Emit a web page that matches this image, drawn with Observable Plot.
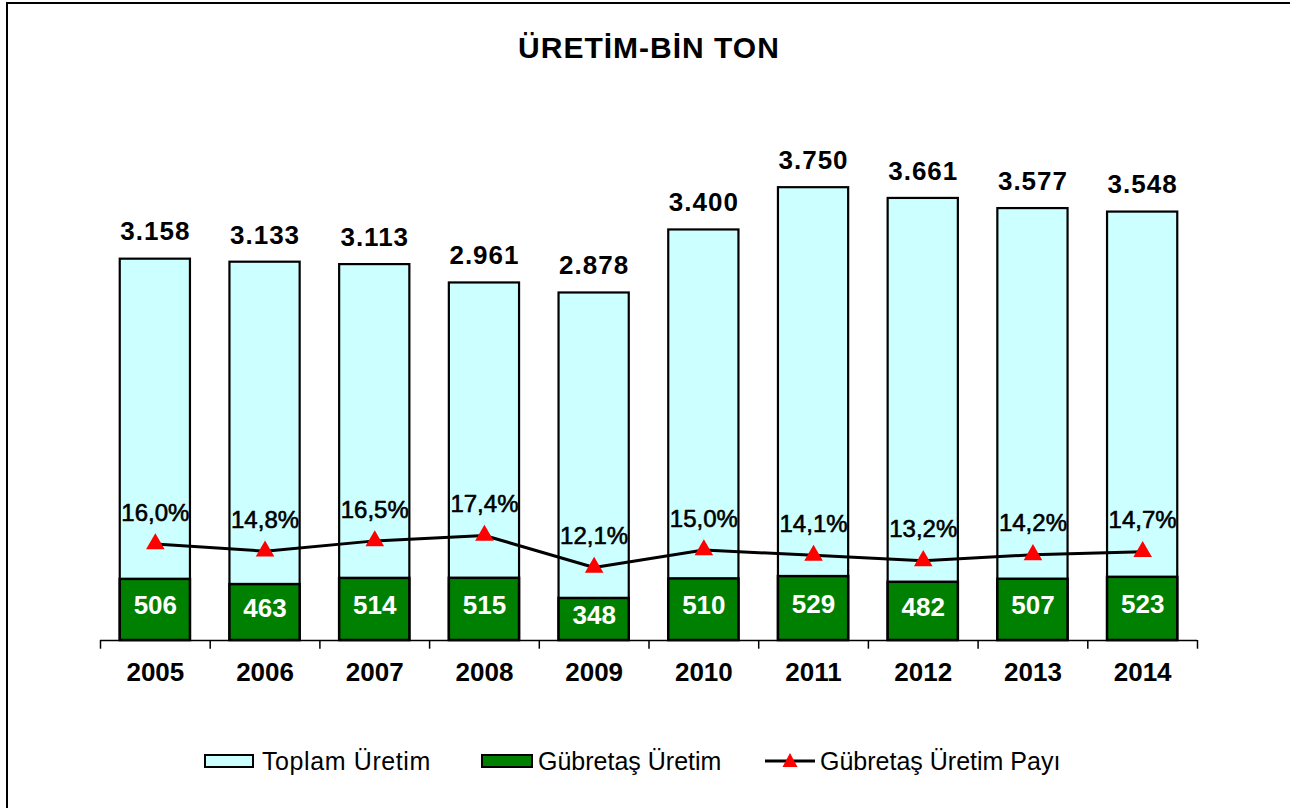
<!DOCTYPE html>
<html>
<head>
<meta charset="utf-8">
<script src="https://cdn.jsdelivr.net/npm/d3@7"></script>
<script src="https://cdn.jsdelivr.net/npm/@observablehq/plot@0.6"></script>
<style>
  html, body { margin: 0; padding: 0; background: #fff; }
  #wrap { position: relative; width: 1290px; height: 808px; overflow: hidden; background: #fff;
          font-family: "Liberation Sans", Arial, sans-serif; }
  #frame { position: absolute; left: 6px; top: 2px; width: 1300px; height: 820px;
           border-left: 2px solid #000; border-top: 2px solid #000; box-sizing: border-box; }
  #title { position: absolute; left: 0; width: 1298px; top: 30px; text-align: center;
           font-size: 30px; letter-spacing: 1px; font-weight: bold; color: #000; line-height: 36px; }
  #chart { position: absolute; left: 0; top: 0; }
  .lg { position: absolute; font-size: 25px; line-height: 30px; color: #000; top: 746px; white-space: nowrap; }
  .sw { position: absolute; top: 754px; height: 14px; box-sizing: border-box; border: 2px solid #000; }
</style>
</head>
<body>
<div id="wrap">
  <div id="frame"></div>
  <div id="title">ÜRETİM-BİN TON</div>
  <div id="chart"></div>
  <div class="sw" style="left:204px;width:50px;background:#CCFFFF"></div>
  <div class="lg" style="left:262px;letter-spacing:0.6px">Toplam Üretim</div>
  <div class="sw" style="left:481px;width:52px;background:#008000"></div>
  <div class="lg" style="left:538px">Gübretaş Üretim</div>
  <svg style="position:absolute;left:760px;top:748px" width="60" height="26">
    <line x1="5" y1="13" x2="55" y2="13" stroke="#000" stroke-width="3"/>
    <path d="M30,5 L37.5,19 L22.5,19 Z" fill="#FF0000"/>
  </svg>
  <div class="lg" style="left:820px">Gübretaş Üretim Payı</div>
</div>
<script>
const years = ["2005","2006","2007","2008","2009","2010","2011","2012","2013","2014"];
const totalProduction = [3158, 3133, 3113, 2961, 2878, 3400, 3750, 3661, 3577, 3548];
const gubretasProduction = [506, 463, 514, 515, 348, 510, 529, 482, 507, 523];
const gubretasShare = [16.0, 14.8, 16.5, 17.4, 12.1, 15.0, 14.1, 13.2, 14.2, 14.7];
const totalLabels = ["3.158","3.133","3.113","2.961","2.878","3.400","3.750","3.661","3.577","3.548"];
const shareLabels = ["16,0%","14,8%","16,5%","17,4%","12,1%","15,0%","14,1%","13,2%","14,2%","14,7%"];

// secondary axis: 0–80% mapped onto 0–4000
const shareScale = 4000 / 80;

const rows = years.map((y, i) => ({
  year: y,
  total: totalProduction[i],
  gub: gubretasProduction[i],
  share: gubretasShare[i],
  shareY: gubretasShare[i] * shareScale,
  totalLabel: totalLabels[i],
  shareLabel: shareLabels[i]
}));

const font = "'Liberation Sans', Arial, sans-serif";
const step = (1290 - 100 - 93) / years.length;

const chart = Plot.plot({
  width: 1290,
  height: 700,
  marginLeft: 100,
  marginRight: 93,
  marginTop: 157,
  marginBottom: 60,
  style: { fontFamily: font, background: "transparent", overflow: "visible" },
  x: { domain: years, paddingInner: 0.36, paddingOuter: 0.18, round: false, axis: null },
  y: { domain: [0, 4000], axis: null },
  marks: [
    Plot.barY(rows, { x: "year", y: "total", fill: "#CCFFFF", stroke: "#000", strokeWidth: 2.2 }),
    Plot.barY(rows, { x: "year", y: "gub", fill: "#008000", stroke: "#000", strokeWidth: 2.5 }),
    Plot.ruleY([0], { stroke: "#000", strokeWidth: 1.5 }),
    Plot.ruleX(years, { x: d => d, dx: -step / 2, y1: 0, y2: -72, stroke: "#000", strokeWidth: 1.5, clip: false }),
    Plot.ruleX([years[years.length - 1]], { x: d => d, dx: step / 2, y1: 0, y2: -72, stroke: "#000", strokeWidth: 1.5, clip: false }),
    Plot.line(rows, { x: "year", y: "shareY", stroke: "#000", strokeWidth: 3 }),
    Plot.dot(rows, { x: "year", y: "shareY", symbol: "triangle", r: 6.9, fill: "#FF0000", stroke: "none" }),
    Plot.text(rows, { x: "year", y: "total", text: "totalLabel", dy: -27, fontSize: 26, fontWeight: "bold", fill: "#000" }),
    Plot.text(rows, { x: "year", y: d => d.gub / 2, text: d => String(d.gub), dy: -4, fontSize: 26, fontWeight: "bold", fill: "#fff" }),
    Plot.text(rows, { x: "year", y: "shareY", text: "shareLabel", dy: -31, fontSize: 24, fill: "#000", stroke: "#000", strokeWidth: 0.6 }),
    Plot.text(years, { x: d => d, y: 0, dy: 32, text: d => d, fontSize: 26, fontWeight: "bold", fill: "#000" })
  ]
});
chart.querySelectorAll("text").forEach(t => {
  if (/^\d\.\d{3}$/.test(t.textContent)) t.setAttribute("letter-spacing", "1");
});
document.getElementById("chart").appendChild(chart);
</script>
</body>
</html>
